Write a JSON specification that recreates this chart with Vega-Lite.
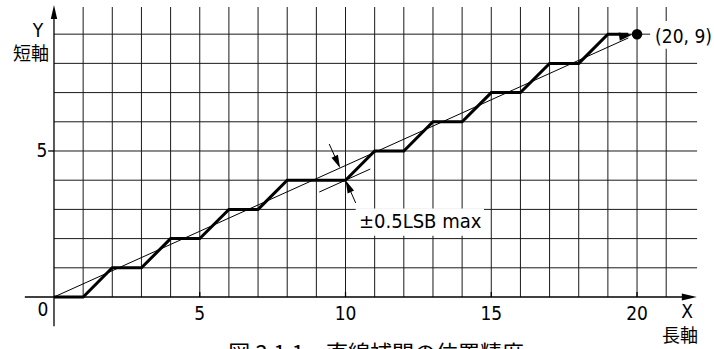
{
  "$schema": "https://vega.github.io/schema/vega-lite/v6.json",
  "width": 714,
  "height": 349,
  "padding": 0,
  "autosize": {"type": "none"},
  "background": "white",
  "config": {"view": {"stroke": null}},
  "encoding": {
    "x": {"field": "x", "type": "quantitative", "scale": {"domain": [-1.852, 22.64], "nice": false, "zero": false}, "axis": null},
    "y": {"field": "y", "type": "quantitative", "scale": {"domain": [-1.78, 10.17], "nice": false, "zero": false}, "axis": null}
  },
  "layer": [
    {
      "data": {"values": [
        {"x": 1, "y": 0, "y2": 9.93}, {"x": 2, "y": 0, "y2": 9.93}, {"x": 3, "y": 0, "y2": 9.93},
        {"x": 4, "y": 0, "y2": 9.93}, {"x": 5, "y": 0, "y2": 9.93}, {"x": 6, "y": 0, "y2": 9.93},
        {"x": 7, "y": 0, "y2": 9.93}, {"x": 8, "y": 0, "y2": 9.93}, {"x": 9, "y": 0, "y2": 9.93},
        {"x": 10, "y": 0, "y2": 9.93}, {"x": 11, "y": 0, "y2": 9.93}, {"x": 12, "y": 0, "y2": 9.93},
        {"x": 13, "y": 0, "y2": 9.93}, {"x": 14, "y": 0, "y2": 9.93}, {"x": 15, "y": 0, "y2": 9.93},
        {"x": 16, "y": 0, "y2": 9.93}, {"x": 17, "y": 0, "y2": 9.93}, {"x": 18, "y": 0, "y2": 9.93},
        {"x": 19, "y": 0, "y2": 9.93}, {"x": 20, "y": 0, "y2": 9.93}, {"x": 21, "y": 0, "y2": 9.93}
      ]},
      "mark": {"type": "rule", "color": "#1a1a1a", "strokeWidth": 1},
      "encoding": {"y2": {"field": "y2"}}
    },
    {
      "data": {"values": [
        {"y": 1, "x": 0, "x2": 22.06}, {"y": 2, "x": 0, "x2": 22.06}, {"y": 3, "x": 0, "x2": 22.06},
        {"y": 4, "x": 0, "x2": 22.06}, {"y": 5, "x": 0, "x2": 22.06}, {"y": 6, "x": 0, "x2": 22.06},
        {"y": 7, "x": 0, "x2": 22.06}, {"y": 8, "x": 0, "x2": 22.06}, {"y": 9, "x": 0, "x2": 22.06}
      ]},
      "mark": {"type": "rule", "color": "#1a1a1a", "strokeWidth": 1},
      "encoding": {"x2": {"field": "x2"}}
    },
    {
      "data": {"values": [
        {"x": 10.35, "x2": 14.75, "y": 2.1, "y2": 3.03},
        {"x": 20.45, "x2": 22.64, "y": 8.5, "y2": 9.45}
      ]},
      "mark": {"type": "rect", "color": "white"},
      "encoding": {"x2": {"field": "x2"}, "y2": {"field": "y2"}}
    },
    {
      "data": {"values": [
        {"x": -1, "y": 0, "x2": 21.7, "y2": 0},
        {"x": 0, "y": -1, "x2": 0, "y2": 9.7},
        {"x": 5, "y": 0, "x2": 5, "y2": 0.17},
        {"x": 10, "y": 0, "x2": 10, "y2": 0.17},
        {"x": 15, "y": 0, "x2": 15, "y2": 0.17},
        {"x": 20, "y": 0, "x2": 20, "y2": 0.17},
        {"x": -0.2, "y": 5, "x2": 0, "y2": 5}
      ]},
      "mark": {"type": "rule", "color": "black", "strokeWidth": 1.3},
      "encoding": {"x2": {"field": "x2"}, "y2": {"field": "y2"}}
    },
    {
      "data": {"values": [
        {"x": 0, "y": 0, "x2": 19.7, "y2": 8.87},
        {"x": 9.1, "y": 3.595, "x2": 10.85, "y2": 4.3825},
        {"x": 9.44, "y": 5.24, "x2": 9.78, "y2": 4.49},
        {"x": 10.35, "y": 3.22, "x2": 10.04, "y2": 3.92}
      ]},
      "mark": {"type": "rule", "color": "black", "strokeWidth": 1},
      "encoding": {"x2": {"field": "x2"}, "y2": {"field": "y2"}}
    },
    {
      "data": {"values": [
        {"x": 0, "y": 0}, {"x": 1, "y": 0}, {"x": 2, "y": 1}, {"x": 3, "y": 1},
        {"x": 4, "y": 2}, {"x": 5, "y": 2}, {"x": 6, "y": 3}, {"x": 7, "y": 3},
        {"x": 8, "y": 4}, {"x": 9, "y": 4}, {"x": 10, "y": 4}, {"x": 11, "y": 5},
        {"x": 12, "y": 5}, {"x": 13, "y": 6}, {"x": 14, "y": 6}, {"x": 15, "y": 7},
        {"x": 16, "y": 7}, {"x": 17, "y": 8}, {"x": 18, "y": 8}, {"x": 19, "y": 9},
        {"x": 19.7, "y": 9}
      ]},
      "mark": {"type": "line", "color": "black", "strokeWidth": 3, "strokeJoin": "miter"},
      "encoding": {"order": {"field": "x", "type": "quantitative"}}
    },
    {
      "data": {"values": [{"x": 20, "y": 9}]},
      "mark": {"type": "point", "shape": "circle", "filled": true, "color": "black", "size": 110, "opacity": 1}
    },
    {
      "data": {"values": [{"x": 19.83, "y": 8.98}]},
      "mark": {"type": "point", "shape": "M0,0L-0.42,-1.3L0.42,-1.3Z", "filled": true, "color": "black", "size": 400, "opacity": 1, "angle": -98}
    },
    {
      "data": {"values": [{"x": 22.05, "y": 0}]},
      "mark": {"type": "point", "shape": "M0,0L-0.35,-1.5L0.35,-1.5Z", "filled": true, "color": "black", "size": 400, "opacity": 1, "angle": -90}
    },
    {
      "data": {"values": [{"x": 0, "y": 10.0}]},
      "mark": {"type": "point", "shape": "M0,0L-0.32,-1.4L0.32,-1.4Z", "filled": true, "color": "black", "size": 400, "opacity": 1, "angle": 180}
    },
    {
      "data": {"values": [{"x": 9.813, "y": 4.416}]},
      "mark": {"type": "point", "shape": "M0,0L-0.35,-1.3L0.35,-1.3Z", "filled": true, "color": "black", "size": 400, "opacity": 1, "angle": -24.3}
    },
    {
      "data": {"values": [{"x": 10, "y": 4}]},
      "mark": {"type": "point", "shape": "M0,0L-0.35,-1.3L0.35,-1.3Z", "filled": true, "color": "black", "size": 400, "opacity": 1, "angle": 155.7}
    },
    {
      "data": {"values": [
        {"x": -0.38, "y": -0.45, "t": "0"},
        {"x": 5, "y": -0.58, "t": "5"},
        {"x": 10, "y": -0.58, "t": "10"},
        {"x": 15, "y": -0.58, "t": "15"},
        {"x": 20, "y": -0.58, "t": "20"},
        {"x": -0.41, "y": 5, "t": "5"},
        {"x": -0.55, "y": 9.11, "t": "Y"},
        {"x": 21.72, "y": -0.5, "t": "X"}
      ]},
      "mark": {"type": "text", "font": "Liberation Sans Narrow, DejaVu Sans Condensed, Liberation Sans", "fontSize": 19, "align": "center", "baseline": "middle", "color": "black"},
      "encoding": {"text": {"field": "t"}}
    },
    {
      "data": {"values": [{"x": 20.62, "y": 8.92, "t": "(20, 9)"}]},
      "mark": {"type": "text", "font": "Liberation Sans Narrow, DejaVu Sans Condensed, Liberation Sans", "fontSize": 19, "align": "left", "baseline": "middle", "color": "black"},
      "encoding": {"text": {"field": "t"}}
    },
    {
      "data": {"values": [{"x": 12.56, "y": 2.57, "t": "±0.5LSB max"}]},
      "mark": {"type": "text", "font": "Liberation Sans Narrow, DejaVu Sans Condensed, Liberation Sans", "fontSize": 20, "align": "center", "baseline": "middle", "color": "black"},
      "encoding": {"text": {"field": "t"}}
    },
    {
      "data": {"values": [
        {"x": -0.79, "y": 8.29, "t": "短軸"},
        {"x": 21.47, "y": -1.38, "t": "長軸"}
      ]},
      "mark": {"type": "text", "font": "Noto Sans CJK JP", "fontSize": 18, "align": "center", "baseline": "middle", "color": "black"},
      "encoding": {"text": {"field": "t"}}
    },
    {
      "data": {"values": [{"x": 11.05, "y": -1.6, "t": "図 3.1.1　直線補間の位置精度"}]},
      "mark": {"type": "text", "font": "Noto Sans CJK JP", "fontSize": 22, "align": "center", "baseline": "top", "color": "black"},
      "encoding": {"text": {"field": "t"}}
    }
  ]
}
